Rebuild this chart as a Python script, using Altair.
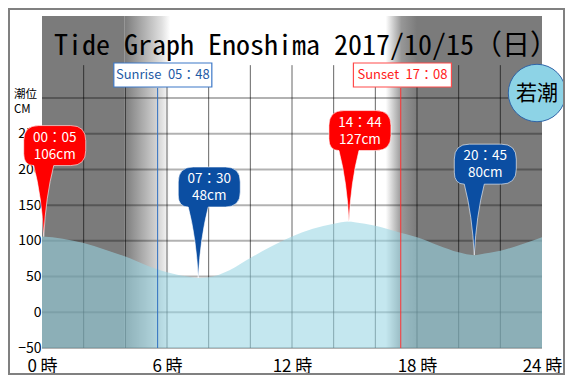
import altair as alt
import pandas as pd

# ---------------- data ----------------
tide_hours = [0, 1, 2, 3, 4, 5, 6, 7, 7.5, 8, 9, 10, 11, 12, 13, 14, 14.73, 15, 16, 17, 18, 19, 20, 20.75, 21, 22, 23, 24]
tide_cm = [106, 103, 97, 88, 78, 66, 56, 50, 48, 49, 59, 76, 92, 106, 117, 124, 127, 126, 121, 113, 105, 94, 84, 80, 81, 86, 95, 105]

peak_hours = [0.083, 7.5, 14.733, 20.75]
peak_cm = [106, 48, 127, 80]
peak_time_labels = ["00：05", "07：30", "14：44", "20：45"]
peak_cm_labels = ["106cm", "48cm", "127cm", "80cm"]
peak_kind = ["満潮", "干潮", "満潮", "干潮"]

sun_labels = ["Sunrise\u200205：48", "Sunset\u200217：08"]
sun_kind = ["sunrise", "sunset"]
sun_box_hours = [5.8, 17.3]
sun_line_hours = [5.55, 17.22]

night_solid_start = [0, 18.0]
night_solid_end = [3.95, 24]
fade_in_range = [3.95, 6.15]
fade_out_range = [16.5, 18.0]

hgrid_values = [-50, 0, 50, 100, 150, 200, 250, 300]
vgrid_hours = [2, 4, 6, 8, 10, 12, 14, 16, 18, 20, 22]
y_ticks = [-50, 0, 50, 100, 150, 200, 250]
x_ticks = [0, 6, 12, 18, 24]

title_text = "Tide Graph Enoshima 2017/10/15（日）"
tide_name = "若潮"

# ---------------- styling ----------------
W, H = 500, 332
FONT = "Noto Sans CJK JP"
MONO = "Noto Sans Mono CJK JP, Noto Sans CJK JP"
NIGHT = "#7b7b7b"

x_scale = alt.Scale(domain=[0, 24], nice=False)
y_scale = alt.Scale(domain=[-50, 414.8], nice=False, zero=False)

x_axis = alt.Axis(values=x_ticks, labelExpr="datum.value + ' 時'", grid=False, ticks=False,
                  domain=False, labelFontSize=17, labelFont=FONT, labelColor="black",
                  labelPadding=10, labelFlush=False, title=None)
y_axis = alt.Axis(values=y_ticks, grid=False, ticks=False, domain=False, labelFontSize=14,
                  labelFont=FONT, labelColor="black", labelPadding=1, title=None)

tide_df = pd.DataFrame({"hour": tide_hours, "cm": tide_cm})
peak_df = pd.DataFrame({"hour": peak_hours, "cm": peak_cm, "t": peak_time_labels,
                        "c": peak_cm_labels, "kind": peak_kind})
sun_df = pd.DataFrame({"box": sun_box_hours, "line": sun_line_hours, "label": sun_labels, "kind": sun_kind})
solid_df = pd.DataFrame({"x0": night_solid_start, "x1": night_solid_end})
fin_df = pd.DataFrame({"x0": [fade_in_range[0]], "x1": [fade_in_range[1]]})
fout_df = pd.DataFrame({"x0": [fade_out_range[0]], "x1": [fade_out_range[1]]})
hgrid_df = pd.DataFrame({"v": hgrid_values})
vgrid_df = pd.DataFrame({"h": vgrid_hours})
one = pd.DataFrame({"a": [0]})

def X(f):
    return alt.X(f, type="quantitative", scale=x_scale, axis=x_axis)

def Y(f):
    return alt.Y(f, type="quantitative", scale=y_scale, axis=y_axis)

frame = alt.Chart(one).mark_rect(fillOpacity=0, stroke="#808080", strokeWidth=2).encode(
    x=alt.value(-33), x2=alt.value(522), y=alt.value(-7), y2=alt.value(358))

solid = alt.Chart(solid_df).mark_rect(color=NIGHT).encode(
    x=X("x0"), x2="x1", y=alt.value(0), y2=alt.value(H))

fade_in = alt.Chart(fin_df).mark_rect(color=alt.LinearGradient(
    gradient="linear", x1=0, x2=1, y1=0, y2=0,
    stops=[alt.GradientStop(color=NIGHT, offset=0),
           alt.GradientStop(color="#e0e0e0", offset=0.82),
           alt.GradientStop(color="#ffffff", offset=1)])).encode(
    x=X("x0"), x2="x1", y=alt.value(0), y2=alt.value(H))

fade_out = alt.Chart(fout_df).mark_rect(color=alt.LinearGradient(
    gradient="linear", x1=0, x2=1, y1=0, y2=0,
    stops=[alt.GradientStop(color="#ffffff", offset=0),
           alt.GradientStop(color="#979797", offset=0.5),
           alt.GradientStop(color=NIGHT, offset=1)])).encode(
    x=X("x0"), x2="x1", y=alt.value(0), y2=alt.value(H))

vgrid = alt.Chart(vgrid_df).mark_rule(color="black", opacity=0.6, strokeWidth=1).encode(
    x=X("h"), y=alt.datum(-50, scale=y_scale, axis=y_axis), y2=alt.datum(346))

hgrid = alt.Chart(hgrid_df).mark_rule(color="black", opacity=0.3, strokeWidth=2).encode(
    y=Y("v"), x=alt.datum(0, scale=x_scale, axis=x_axis), x2=alt.datum(24))

water = alt.Chart(tide_df).mark_area(interpolate="monotone", color="#99d6e4", opacity=0.58).encode(
    x=X("hour"), y=Y("cm"), y2=alt.datum(-50))

sun_color = alt.Color("kind:N", scale=alt.Scale(domain=["sunrise", "sunset"], range=["#2f6fc0", "#ff3030"]), legend=None)

sun_lines = alt.Chart(sun_df).mark_rule(strokeWidth=1).encode(
    x=X("line"), y=alt.value(72), y2=alt.value(H), color=sun_color)

sun_boxes = alt.Chart(sun_df).mark_rect(fill="white", strokeWidth=1.2, width=98, height=24).encode(
    x=X("box"), y=alt.value(59), stroke=alt.Stroke("kind:N", scale=alt.Scale(domain=["sunrise", "sunset"], range=["#3c78c8", "#ff4a4a"]), legend=None))

sun_text = alt.Chart(sun_df).mark_text(font=FONT, fontSize=13, baseline="middle", align="center").encode(
    x=X("box"), y=alt.value(59), text="label:N",
    color=alt.Color("kind:N", scale=alt.Scale(domain=["sunrise", "sunset"], range=["#1e5aa5", "#ff1a1a"]), legend=None))

title = alt.Chart(one).mark_text(font=MONO, fontSize=28, align="center", baseline="alphabetic", color="black").encode(
    x=alt.value(264), y=alt.value(39), text=alt.value(title_text))

unit1 = alt.Chart(one).mark_text(font=FONT, fontSize=11.5, align="left", baseline="alphabetic", color="black").encode(
    x=alt.value(-28), y=alt.value(82), text=alt.value("潮位"))
unit2 = alt.Chart(one).mark_text(font=FONT, fontSize=11.5, align="left", baseline="alphabetic", color="black").encode(
    x=alt.value(-28), y=alt.value(97), text=alt.value("CM"))

circle = alt.Chart(one).mark_point(shape="circle", size=3300, filled=True, opacity=1, color="#8dd3e6",
                                   stroke="#2f64a8", strokeWidth=1).encode(x=alt.value(495), y=alt.value(77))
circle_text = alt.Chart(one).mark_text(font=FONT, fontSize=21, align="center", baseline="middle", color="black").encode(
    x=alt.value(495), y=alt.value(78), text=alt.value(tide_name))

PIN = ("M -0.05 -1.11 L 0.27 -1.11 Q 0.42 -1.11 0.42 -0.96 L 0.42 -0.86 Q 0.42 -0.71 0.27 -0.71 "
       "L 0.1 -0.71 Q 0.02 -0.4 0 0 Q -0.02 -0.4 -0.1 -0.71 Q -0.2 -0.71 -0.2 -0.83 "
       "L -0.2 -0.96 Q -0.2 -1.11 -0.05 -1.11 Z")

peak_color = alt.Color("kind:N", scale=alt.Scale(domain=["満潮", "干潮"], range=["#ff0000", "#0b4ea2"]), legend=None)

pins = alt.Chart(peak_df).mark_point(shape=PIN, size=40000, filled=True, opacity=1,
                                     stroke="white", strokeWidth=1, strokeOpacity=0.6).encode(
    x=X("hour"), y=Y("cm"), fill=peak_color)

pin_t = alt.Chart(peak_df).mark_text(font=FONT, fontSize=13.5, color="white", dx=11, dy=-99, align="center", baseline="middle").encode(
    x=X("hour"), y=Y("cm"), text="t:N")
pin_c = alt.Chart(peak_df).mark_text(font=FONT, fontSize=13.5, color="white", dx=11, dy=-82, align="center", baseline="middle").encode(
    x=X("hour"), y=Y("cm"), text="c:N")

chart = alt.layer(
    solid, fade_in, fade_out, vgrid, hgrid, water, sun_lines, sun_boxes, sun_text, title,
    unit1, unit2, circle, circle_text, pins, pin_t, pin_c, frame
).resolve_scale(color="independent", stroke="independent", fill="independent").properties(
    width=W, height=H, autosize="none",
    padding={"left": 34, "top": 8, "right": 23, "bottom": 28},
    background="white"
).configure_view(stroke=None)

chart.save("out.html", embed_options={"renderer": "svg", "actions": False})
